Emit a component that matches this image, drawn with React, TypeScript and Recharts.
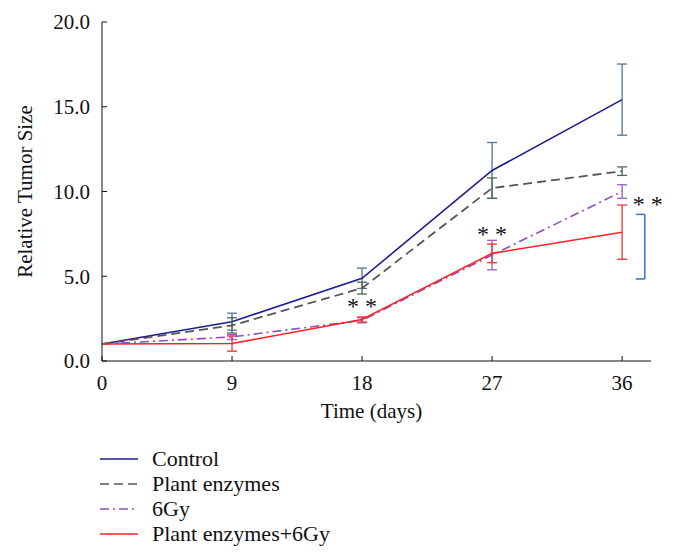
import { LineChart, Line, XAxis, YAxis, ErrorBar, Legend, ReferenceLine, ReferenceDot } from "recharts";

const days = [0, 9, 18, 27, 36];
const control = [1.0, 2.32, 4.88, 11.24, 15.42];
const controlErr = [0, 0.5, 0.6, 1.65, 2.1];
const plantEnzymes = [1.0, 2.1, 4.3, 10.2, 11.2];
const plantEnzymesErr = [0, 0.45, 0.35, 0.6, 0.25];
const gy6 = [1.0, 1.42, 2.4, 6.25, 10.0];
const gy6Err = [0, 0.15, 0.15, 0.87, 0.4];
const combo = [1.0, 1.03, 2.45, 6.35, 7.6];
const comboErr = [0, 0.45, 0.15, 0.55, 1.6];

const xTicks = [0, 9, 18, 27, 36];
const yTicks = [0, 5, 10, 15, 20];

const FONT = '"Liberation Serif", "Times New Roman", serif';

const data = days.map((d, i) => ({
  day: d,
  control: control[i],
  controlErr: controlErr[i],
  plant: plantEnzymes[i],
  plantErr: plantEnzymesErr[i],
  gy: gy6[i],
  gyErr: gy6Err[i],
  combo: combo[i],
  comboErr: comboErr[i],
}));

const series = [
  { name: "Control", color: "#1c1f8a", dash: undefined },
  { name: "Plant enzymes", color: "#555555", dash: "9 5" },
  { name: "6Gy", color: "#8a50c0", dash: "9 4 2 4" },
  { name: "Plant enzymes+6Gy", color: "#ff2222", dash: undefined },
];

const renderLegend = () => (
  <div style={{ height: 100, paddingLeft: 92, fontFamily: FONT, fontSize: 22, color: "#111" }}>
    {series.map((s) => (
      <div key={s.name} style={{ display: "flex", alignItems: "center", height: 25 }}>
        <svg width={38} height={4}>
          <line x1={0} y1={2} x2={38} y2={2} stroke={s.color} strokeWidth={1.6} strokeDasharray={s.dash} />
        </svg>
        <span style={{ marginLeft: 14 }}>{s.name}</span>
      </div>
    ))}
  </div>
);

const tickStyle = { fontFamily: FONT, fontSize: 21, fill: "#111" };
const labelStyle = { fontFamily: FONT, fontSize: 21, fill: "#111" };
const starStyle = { fontFamily: FONT, fontSize: 24, fill: "#111" };

export default function App() {
  return (
    <LineChart width={658} height={545} data={data} margin={{ top: 14, right: 15, left: 0, bottom: 7 }}>
      <XAxis
        dataKey="day"
        type="number"
        domain={[0, 38]}
        ticks={xTicks}
        height={85}
        stroke="#111"
        tickSize={-5}
        tickMargin={19}
        tick={tickStyle}
        label={{ value: "Time (days)", position: "insideTop", offset: 42, dx: -5, style: labelStyle }}
      />
      <YAxis
        type="number"
        domain={[0, 20]}
        ticks={yTicks}
        width={94}
        stroke="#111"
        tickSize={-5}
        tickMargin={17}
        tick={tickStyle}
        tickFormatter={(v: number) => v.toFixed(1)}
        label={{ value: "Relative Tumor Size", angle: -90, position: "insideLeft", offset: 17, style: { ...labelStyle, textAnchor: "middle" } }}
      />
      <Legend layout="horizontal" verticalAlign="bottom" align="left" content={renderLegend} />
      <Line dataKey="control" stroke="#1c1f8a" strokeWidth={1.6} dot={false} isAnimationActive={false}>
        <ErrorBar dataKey="controlErr" stroke="#4f7598" width={5} strokeWidth={1.3} />
      </Line>
      <Line dataKey="plant" stroke="#555555" strokeWidth={1.8} strokeDasharray="9 5" dot={false} isAnimationActive={false}>
        <ErrorBar dataKey="plantErr" stroke="#4e6b58" width={5} strokeWidth={1.3} />
      </Line>
      <Line dataKey="gy" stroke="#8a50c0" strokeWidth={1.6} strokeDasharray="9 4 2 4" dot={false} isAnimationActive={false}>
        <ErrorBar dataKey="gyErr" stroke="#9a60c8" width={5} strokeWidth={1.3} />
      </Line>
      <Line dataKey="combo" stroke="#ff2222" strokeWidth={1.6} dot={false} isAnimationActive={false}>
        <ErrorBar dataKey="comboErr" stroke="#ee3333" width={5} strokeWidth={1.3} />
      </Line>
      <ReferenceLine segment={[{ x: 37.57, y: 4.84 }, { x: 37.57, y: 8.65 }]} stroke="#3f78d0" strokeWidth={1.6} />
      <ReferenceLine segment={[{ x: 36.95, y: 8.65 }, { x: 37.57, y: 8.65 }]} stroke="#3f78d0" strokeWidth={1.6} />
      <ReferenceLine segment={[{ x: 36.95, y: 4.84 }, { x: 37.57, y: 4.84 }]} stroke="#3f78d0" strokeWidth={1.6} />
      <ReferenceDot x={18} y={3.25} r={0} fill="none" stroke="none" label={{ value: "* *", position: "center", style: starStyle }} />
      <ReferenceDot x={27} y={7.55} r={0} fill="none" stroke="none" label={{ value: "* *", position: "center", style: starStyle }} />
      <ReferenceDot x={37.78} y={9.3} r={0} fill="none" stroke="none" ifOverflow="visible" label={{ value: "* *", position: "center", style: starStyle }} />
    </LineChart>
  );
}
